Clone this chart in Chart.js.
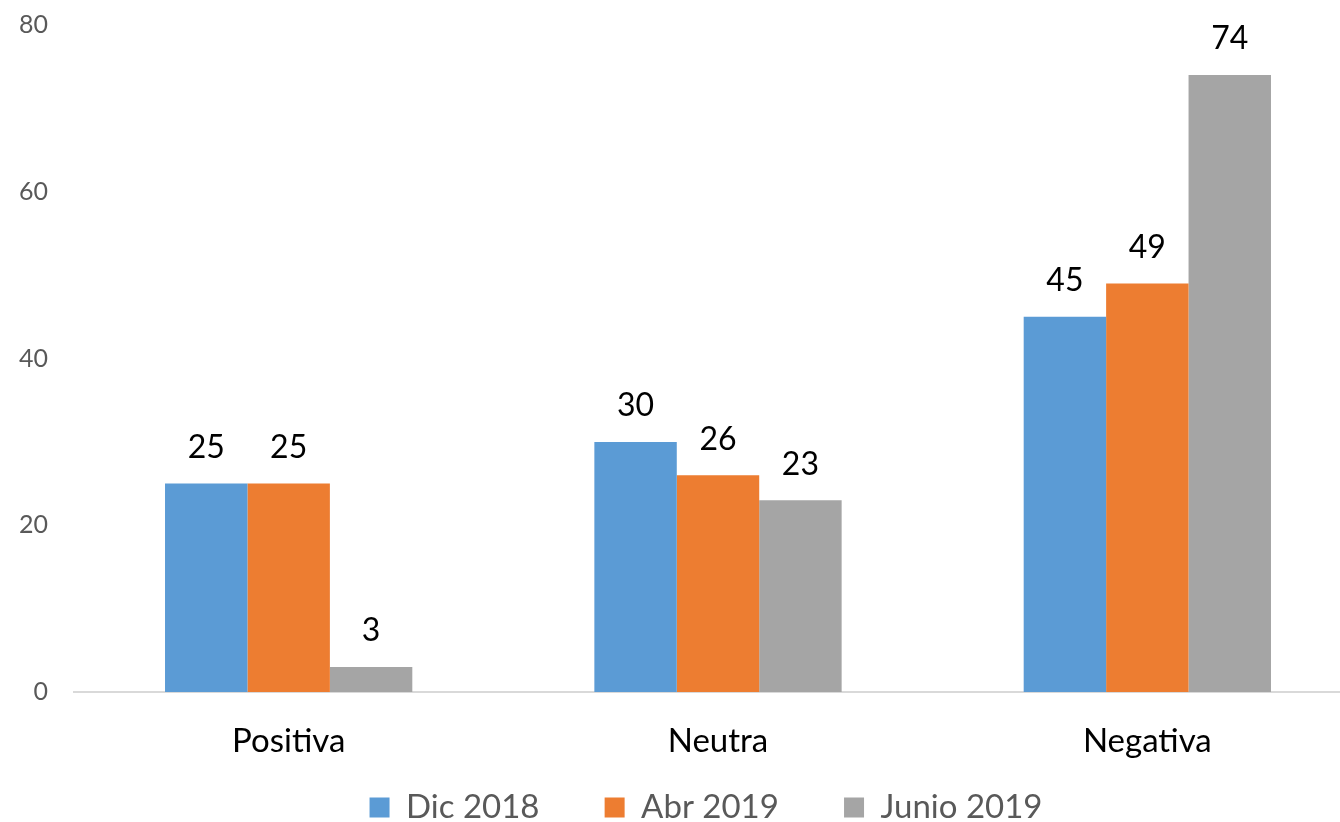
<!DOCTYPE html>
<html>
<head>
<meta charset="utf-8">
<script src="https://cdn.jsdelivr.net/npm/chart.js@4/dist/chart.umd.min.js"></script>
<style>
  html, body { margin: 0; padding: 0; background: #fff; overflow: hidden; }
  #wrap { width: 1362px; height: 822px; position: relative; }
</style>
</head>
<body>
<div id="wrap"><canvas id="chart"></canvas></div>
<script>
const categories = ['Positiva', 'Neutra', 'Negativa'];
const seriesNames = ['Dic 2018', 'Abr 2019', 'Junio 2019'];
const dic2018 = [25, 30, 45];
const abr2019 = [25, 26, 49];
const junio2019 = [3, 23, 74];
const yTicks = [0, 20, 40, 60, 80];

const colors = ['#5B9BD5', '#ED7D31', '#A5A5A5'];
const fontFamily = 'Lato, "Open Sans", sans-serif';

// draws the value above each bar
const valueLabels = {
    id: 'valueLabels',
    afterDatasetsDraw(chart) {
        const ctx = chart.ctx;
        ctx.save();
        ctx.fillStyle = '#000';
        ctx.font = '32px ' + fontFamily;
        ctx.textAlign = 'center';
        ctx.textBaseline = 'middle';
        chart.data.datasets.forEach((ds, i) => {
            chart.getDatasetMeta(i).data.forEach((bar, j) => {
                ctx.fillText(ds.data[j], bar.x, bar.y - 36);
            });
        });
        ctx.restore();
    }
};

// nudge the legend to where the original puts it
const legendShift = {
    id: 'legendShift',
    afterLayout(chart) {
        const lg = chart.legend;
        if (!lg) return;
        lg.left += 25; lg.right += 25;
        lg.top += 12; lg.bottom += 12;
    }
};

const chart = new Chart(document.getElementById('chart'), {
    type: 'bar',
    data: {
        labels: categories,
        datasets: [
            { label: seriesNames[0], data: dic2018, backgroundColor: colors[0] },
            { label: seriesNames[1], data: abr2019, backgroundColor: colors[1] },
            { label: seriesNames[2], data: junio2019, backgroundColor: colors[2] }
        ]
    },
    options: {
        responsive: true,
        maintainAspectRatio: false,
        animation: false,
        categoryPercentage: 0.576,
        barPercentage: 1,
        layout: { padding: { top: 25, left: 0, right: 0, bottom: 0 } },
        scales: {
            x: {
                grid: { display: false },
                border: { display: true, color: '#D9D9D9', width: 2 },
                ticks: { color: '#000', font: { size: 33, family: fontFamily }, padding: 22 },
                afterFit(scale) { scale.height = 81; }
            },
            y: {
                min: 0,
                max: 80,
                grid: { display: false },
                border: { display: false },
                afterBuildTicks(scale) { scale.ticks = yTicks.map(v => ({ value: v })); },
                ticks: { color: '#595959', font: { size: 25, family: fontFamily }, padding: 18 },
                afterFit(scale) {
                    scale.width = 74;
                    scale.paddingTop = 0;
                    scale.paddingBottom = 0;
                }
            }
        },
        plugins: {
            tooltip: { enabled: false },
            legend: {
                position: 'bottom',
                labels: {
                    color: '#595959',
                    font: { size: 33, family: fontFamily },
                    boxWidth: 20,
                    boxHeight: 20,
                    padding: 6,
                    generateLabels(chart) {
                        return chart.data.datasets.map((ds, i) => ({
                            text: ds.label + (i < chart.data.datasets.length - 1 ? '       ' : ''),
                            fillStyle: ds.backgroundColor,
                            strokeStyle: ds.backgroundColor,
                            lineWidth: 0,
                            fontColor: '#595959',
                            datasetIndex: i
                        }));
                    }
                }
            }
        }
    },
    plugins: [valueLabels, legendShift]
});
</script>
</body>
</html>
